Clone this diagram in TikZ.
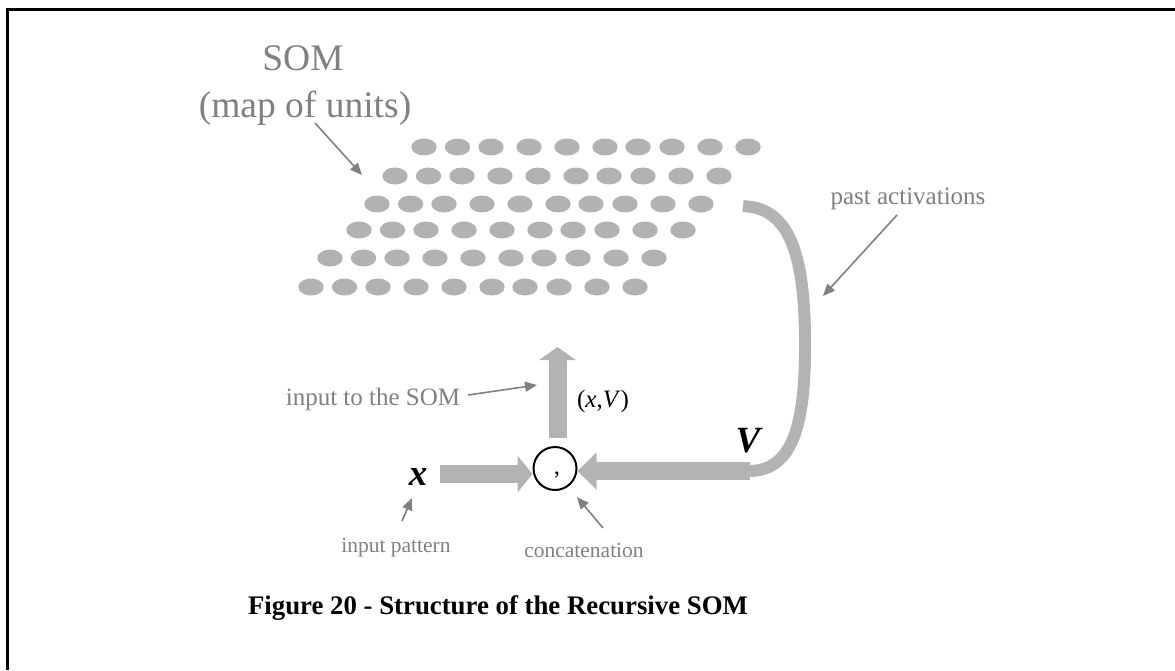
\documentclass[tikz,border=0pt]{standalone}
\usepackage{fontspec}
\setmainfont{Liberation Serif}
\usetikzlibrary{arrows.meta}
\definecolor{unitgray}{HTML}{B2B2B2}
\definecolor{flowgray}{HTML}{B3B3B3}
\definecolor{notegray}{HTML}{808080}
\tikzset{
  note/.style={text=notegray, font=\fontsize{25}{30}\selectfont, inner sep=0pt, anchor=base},
  smallnote/.style={note, font=\fontsize{21.5}{26}\selectfont},
  bignote/.style={note, font=\fontsize{37.5}{45}\selectfont},
  symb/.style={text=black, font=\fontsize{37}{44}\selectfont\bfseries\itshape, inner sep=0pt, anchor=base},
  pointer/.style={draw=notegray, line width=1.6pt, -{Triangle[length=12pt,width=10pt]}},
  flow/.style={draw=flowgray, line width=18pt, -{Triangle[length=#1,width=36pt]}},
  flow/.default=15pt,
  band/.style={draw=flowgray, line width=12pt, line cap=butt},
  frameline/.style={draw=black, line width=3pt},
}
\begin{document}
\begin{tikzpicture}[x=1pt,y=-1pt]
\useasboundingbox (0,0) rectangle (1175,670);
\fill[white] (0,0) rectangle (1175,670);

% frame (top and left edges)
\draw[frameline] (6,9.5) -- (1175,9.5);
\draw[frameline] (7.5,8) -- (7.5,670);

% the SOM: six staggered rows of ten units
\foreach \sx/\sy in {424/147, 395/176, 377/204, 359/230, 330/258, 311/287}{
  \foreach \dx in {0,33.5,67,105,143,181,214,248,286,324}{
    \fill[unitgray] (\sx+\dx,\sy) ellipse (12.7pt and 8.5pt);
  }
}

% titles and labels
\node[bignote] (som) at (303,70) {SOM};
\node[bignote] (map) at (305,117) {(map of units)};
\node[note] (inlbl) at (373,405) {input to the SOM};
\node[note] (past) at (908,204) {past activations};
\node[note, text=black] (xv) at (603,407) {(\textit{x},\textit{V})};
\node[smallnote] (ipat) at (396,552) {input pattern};
\node[smallnote] (conc) at (584,557) {concatenation};
\node[symb] (xsym) at (418,485) {x};
\node[symb] (vsym) at (748,452) {V};

% concatenation operator
\node[draw=black, line width=2pt, circle, minimum size=43pt, inner sep=0pt] (cat) at (555,468.5) {};
\node[text=black, font=\fontsize{25}{30}\selectfont, inner sep=0pt, anchor=base] (comma) at (557,474) {,};

% flows
\coordinate (xin) at (440,474);
\coordinate (vin) at (750,471);
\coordinate (upstart) at (557.5,438);
\coordinate (uptip) at (557.5,347);
\coordinate (bandstart) at (743,206);
\draw[flow] (xin) -- (xin -| cat.west);
\draw[flow=19pt] (vin) -- (vin -| cat.east);
\draw[flow=13pt] (upstart) -- (uptip);
\draw[band] (bandstart) -- (752,207)
  .. controls (792,214) and (804,262) .. (805,335)
  .. controls (806,420) and (795,470) .. (vin);

% pointers from the labels
\coordinate (p1a) at (315,123);  \coordinate (p1b) at (362,175);
\coordinate (p2a) at (468,395);  \coordinate (p2b) at (537,385);
\coordinate (p3a) at (897,215);  \coordinate (p3b) at (823,296);
\coordinate (p4a) at (402,521);  \coordinate (p4b) at (412,498);
\coordinate (p5a) at (603,528);  \coordinate (p5b) at (577,497);
\draw[pointer] (p1a) -- (p1b);
\draw[pointer] (p2a) -- (p2b);
\draw[pointer] (p3a) -- (p3b);
\draw[pointer] (p4a) -- (p4b);
\draw[pointer] (p5a) -- (p5b);

% caption
\node[text=black, font=\fontsize{26.8}{32}\selectfont\bfseries, inner sep=0pt, anchor=base] (cap) at (498,614) {Figure 20 - Structure of the Recursive SOM};
\end{tikzpicture}
\end{document}
